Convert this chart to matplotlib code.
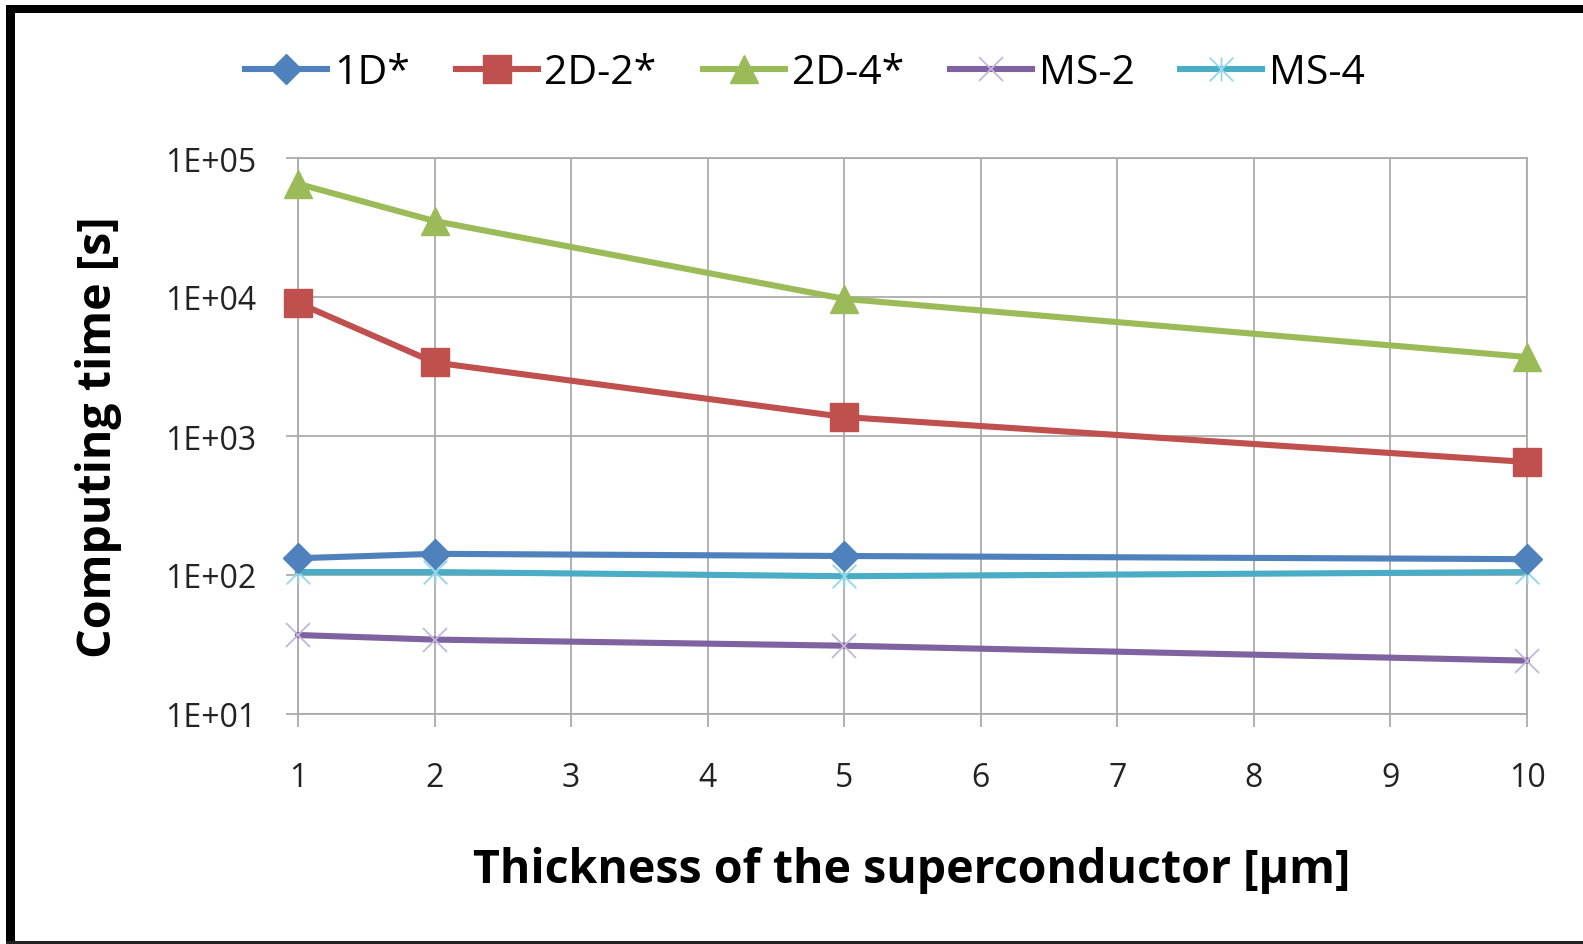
"""Computing time vs. superconductor thickness (Excel-style log chart)."""

import matplotlib

matplotlib.use("Agg")

import matplotlib.pyplot as plt
from matplotlib.patches import Rectangle
from matplotlib.path import Path

# data
thickness = [1, 2, 5, 10]
time_1d = [132, 142, 137, 130]
time_2d2 = [9070, 3380, 1370, 650]
time_2d4 = [65200, 35200, 9700, 3700]
time_ms2 = [37, 34.3, 31, 24.2]
time_ms4 = [105, 105, 98, 105]

x_ticks = [1, 2, 3, 4, 5, 6, 7, 8, 9, 10]
y_ticks = [1e1, 1e2, 1e3, 1e4, 1e5]
y_tick_labels = ["1E+01", "1E+02", "1E+03", "1E+04", "1E+05"]

BLUE = "#4F81BD"
RED = "#C0504D"
GREEN = "#9BBB59"
PURPLE = "#7F62A0"
AQUA = "#4BACC6"
GRID = "#ABABAB"

plt.rcParams["font.family"] = ["Open Sans", "DejaVu Sans"]

W, H = 1583, 945
fig = plt.figure(figsize=(W / 100, H / 100), dpi=100)
fig.patch.set_facecolor("white")

left, right, top, bottom = 298, 1527, 159, 715
ax = fig.add_axes([left / W, 1 - bottom / H, (right - left) / W, (bottom - top) / H])

# Excel "star" marker: X plus a vertical stroke
star = Path(
    [(-1, -1), (1, 1), (-1, 1), (1, -1), (0, -1), (0, 1)],
    [Path.MOVETO, Path.LINETO, Path.MOVETO, Path.LINETO, Path.MOVETO, Path.LINETO],
)

lw = 4.4
common = dict(lw=lw, clip_on=False)
ax.plot(thickness, time_1d, color=BLUE, marker="D", ms=15, label="1D*", zorder=4, **common)
ax.plot(thickness, time_2d2, color=RED, marker="s", ms=20, label="2D-2*", zorder=4, **common)
ax.plot(thickness, time_2d4, color=GREEN, marker="^", ms=20, label="2D-4*", zorder=4, **common)
ax.plot(thickness, time_ms2, color=PURPLE, marker="x", ms=17, mew=1.3,
        mec="#C3B6D8", label="MS-2", zorder=3, **common)
ax.plot(thickness, time_ms4, color=AQUA, marker=star, ms=17, mew=1.3,
        mec="#93D7EA", label="MS-4", zorder=3, **common)

ax.set_yscale("log")
ax.set_xlim(1, 10)
ax.set_ylim(1e1, 1e5)
ax.set_xticks(x_ticks)
ax.set_xticklabels([str(t) for t in x_ticks])
ax.set_yticks(y_ticks)
ax.set_yticklabels(y_tick_labels)
ax.minorticks_off()

ax.grid(True, color=GRID, lw=1.3)
ax.set_axisbelow(True)
for spine in ax.spines.values():
    spine.set_color(GRID)
    spine.set_linewidth(1.3)

ax.tick_params(axis="both", direction="out", length=9, width=1.3, color=GRID,
               labelsize=23, labelcolor="#222222")
ax.tick_params(axis="y", pad=21)
ax.tick_params(axis="x", pad=25)

ax.set_xlabel("Thickness of the superconductor [μm]", fontsize=33.5, fontweight="bold", va="center")
ax.xaxis.set_label_coords(0.499, -0.279)
ax.set_ylabel("Computing time [s]", fontsize=33.5, fontweight="bold", va="center")
ax.yaxis.set_label_coords(-0.162, 0.5)

fig.legend(loc="center", bbox_to_anchor=(805 / W, 1 - 74 / H), ncol=5, frameon=False,
           fontsize=29.5, handlelength=2.0, handletextpad=0.17, columnspacing=1.12)

# black frame around the picture (top, left and a thin bottom edge)
fig.add_artist(Rectangle((6 / W, 1 - 14 / H), 1, 8 / H, transform=fig.transFigure,
                         color="black", lw=0))
fig.add_artist(Rectangle((6 / W, 0), 9 / W, 1 - 6 / H, transform=fig.transFigure,
                         color="black", lw=0))
fig.add_artist(Rectangle((6 / W, 0), 1, 3 / H, transform=fig.transFigure,
                         color="#222222", lw=0))

fig.savefig("out.png", dpi=100)
